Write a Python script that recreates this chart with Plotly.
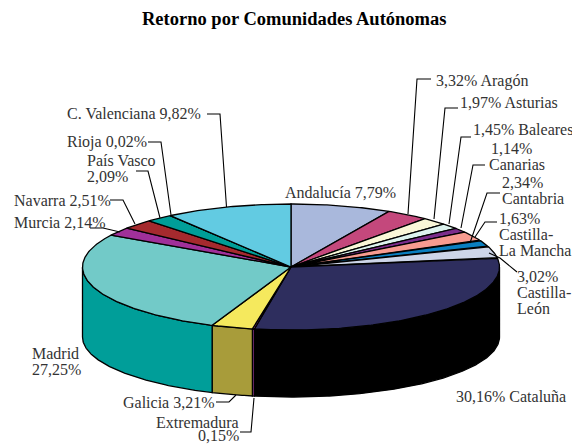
import math
import plotly.graph_objects as go

TITLE = "Retorno por Comunidades Autónomas"
regions = ["Andalucía", "Aragón", "Asturias", "Baleares", "Canarias", "Cantabria",
           "Castilla-La Mancha", "Castilla-León", "Cataluña", "Extremadura", "Galicia",
           "Madrid", "Murcia", "Navarra", "País Vasco", "Rioja", "C. Valenciana"]
shares = [7.79, 3.32, 1.97, 1.45, 1.14, 2.34, 1.63, 3.02, 30.16, 0.15, 3.21,
          27.25, 2.14, 2.51, 2.09, 0.02, 9.82]
top_colors = ["#A9B8DC", "#C4487C", "#FAF7D8", "#DDF3EE", "#7B2D8B", "#F79B90", "#0A7FC0",
              "#CDD5E8", "#2E2E5E", "#C85AB0", "#F5E95D", "#72CAC8", "#A0309A", "#A52A2E",
              "#009E98", "#009E98", "#62CBE2"]
side_colors = {"Cataluña": "#000000", "Extremadura": "#A040A0", "Galicia": "#A89C3A",
               "Madrid": "#009E99", "Castilla-León": "#8A90A0"}

# label line, x, y, xanchor
labels = [
    ("C. Valenciana 9,82%", 67, 113, "left"),
    ("Rioja 0,02%", 67, 142, "left"),
    ("País Vasco", 87, 160, "left"),
    ("2,09%", 87, 176, "left"),
    ("Navarra 2,51%", 14, 200, "left"),
    ("Murcia 2,14%", 14, 222, "left"),
    ("Andalucía 7,79%", 285, 192, "left"),
    ("3,32% Aragón", 436, 81, "left"),
    ("1,97% Asturias", 460, 102, "left"),
    ("1,45% Baleares", 473, 129, "left"),
    ("1,14%", 491, 148, "left"),
    ("Canarias", 489, 164, "left"),
    ("2,34%", 502, 182, "left"),
    ("Cantabria", 502, 198, "left"),
    ("1,63%", 499, 218, "left"),
    ("Castilla-", 499, 234, "left"),
    ("La Mancha", 499, 250, "left"),
    ("3,02%", 517, 276, "left"),
    ("Castilla-", 517, 292, "left"),
    ("León", 517, 308, "left"),
    ("30,16% Cataluña", 456, 396, "left"),
    ("Madrid", 32, 353, "left"),
    ("27,25%", 32, 369, "left"),
    ("Galicia 3,21%", 123, 402, "left"),
    ("Extremadura", 239, 422, "right"),
    ("0,15%", 239, 435, "right"),
]
leaders = [
    [(207, 114), (220, 114), (226.5, 207)],
    [(148, 142), (161, 142), (171, 215)],
    [(136, 171), (148, 171), (160, 218)],
    [(110, 200), (123, 200), (135, 224)],
    [(90, 228), (103, 228), (120, 232)],
    [(431, 79), (417, 79), (408, 214)],
    [(458, 108), (445, 108), (434, 219)],
    [(471, 137), (461, 137), (449, 224)],
    [(485, 165), (473, 165), (461, 228)],
    [(500, 193), (487, 193), (470, 243)],
    [(497, 222), (485, 222), (475, 237)],
    [(489, 253), (500, 258), (517, 272)],
    [(216, 402), (229, 402), (236, 395)],
    [(240, 432), (251, 432), (254, 398)],
]

CX, CY, A, B = 291, 267, 208.5, 63
CY_LOW, B_LOW = 337, 60
total = sum(shares)


def top_pt(t):
    return CX + A * math.sin(t), CY - B * math.cos(t)


def low_pt(t):
    return CX + A * math.sin(t), CY_LOW - B_LOW * math.cos(t)


def arc(fn, t0, t1):
    n = max(2, int(abs(t1 - t0) / 0.01))
    return [fn(t0 + (t1 - t0) * i / n) for i in range(n + 1)]


def poly(pts, color, width=1.3):
    return go.Scatter(x=[p[0] for p in pts] + [pts[0][0]], y=[p[1] for p in pts] + [pts[0][1]],
                      mode="lines", fill="toself", fillcolor=color,
                      line=dict(color="#000000", width=width),
                      hoverinfo="skip", showlegend=False)


fig = go.Figure()
bounds = []
acc = 0
for s in shares:
    bounds.append((acc / total * 2 * math.pi, (acc + s) / total * 2 * math.pi))
    acc += s

# side walls (only the part facing the viewer)
for name, (t0, t1) in zip(regions, bounds):
    a0, a1 = max(t0, math.pi / 2), min(t1, 3 * math.pi / 2)
    if a1 > a0:
        pts = arc(top_pt, a0, a1) + arc(low_pt, a1, a0)
        fig.add_trace(poly(pts, side_colors.get(name, "#000000")))

# top faces
for (t0, t1), col in zip(bounds, top_colors):
    fig.add_trace(poly([(CX, CY)] + arc(top_pt, t0, t1), col))

# leader lines
for seg in leaders:
    fig.add_trace(go.Scatter(x=[p[0] for p in seg], y=[p[1] for p in seg], mode="lines",
                             line=dict(color="#000000", width=1.1),
                             hoverinfo="skip", showlegend=False))

FONT = "Liberation Serif"
annots = [dict(x=294, y=19, text="<b>" + TITLE + "</b>", showarrow=False, xanchor="center",
               yanchor="middle", borderpad=0, font=dict(family=FONT, size=18.5, color="#000000"))]
for text, x, y, anchor in labels:
    annots.append(dict(x=x, y=y, text=text, showarrow=False, xanchor=anchor, yanchor="middle",
                       align=anchor, borderpad=0, borderwidth=0,
                       font=dict(family=FONT, size=16, color="#333333")))

fig.update_layout(
    width=572, height=445, margin=dict(l=0, r=0, t=0, b=0),
    paper_bgcolor="#FFFFFF", plot_bgcolor="#FFFFFF", showlegend=False,
    xaxis=dict(range=[0, 572], visible=False, fixedrange=True),
    yaxis=dict(range=[445, 0], visible=False, fixedrange=True),
    annotations=annots,
)
fig.write_html("out.html", config=dict(displayModeBar=False),
               post_script="document.body.style.margin='0';document.documentElement.style.overflow='hidden';")
